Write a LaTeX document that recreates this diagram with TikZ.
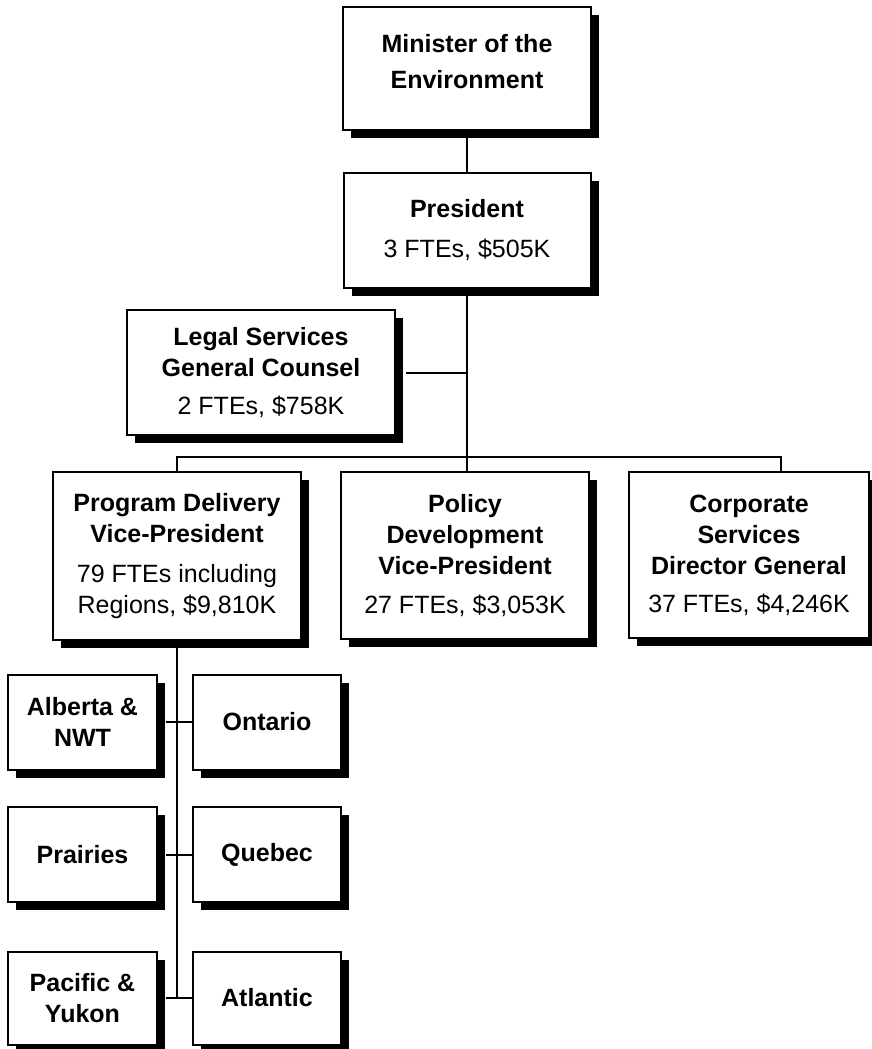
\documentclass[tikz,border=0pt]{standalone}
\usepackage{fontspec}
\setmainfont{Liberation Sans}
\usetikzlibrary{shadows}
\begin{document}
\begin{tikzpicture}[x=1pt,y=-1pt,
  box/.style={draw=black, line width=2pt, fill=white, inner sep=0pt, align=center,
    font=\fontsize{25}{31}\selectfont,
    drop shadow={shadow xshift=8pt, shadow yshift=-8pt, opacity=1, fill=black}},
  conn/.style={line width=2pt}]
\useasboundingbox (0,0) rectangle (872,1049);

\node[box, minimum width=248pt, minimum height=123pt] (minister) at (467,68.5)
  {\textbf{Minister of the}\\[5pt]\textbf{Environment}\\[-17pt]\mbox{}};
\node[box, minimum width=247pt, minimum height=115pt] (president) at (467,230.5)
  {\textbf{President}\\[9pt]3 FTEs, \$505K};
\node[box, minimum width=268pt, minimum height=125pt] (legal) at (261,372.5)
  {\textbf{Legal Services}\\\textbf{General Counsel}\\[7pt]2 FTEs, \$758K};
\node[box, minimum width=248pt, minimum height=168pt] (program) at (177,556)
  {\textbf{Program Delivery}\\\textbf{Vice-President}\\[9pt]79 FTEs including\\Regions, \$9,810K};
\node[box, minimum width=248pt, minimum height=167pt] (policy) at (465,555.5)
  {\textbf{Policy}\\\textbf{Development}\\\textbf{Vice-President}\\[8pt]27 FTEs, \$3,053K};
\node[box, minimum width=240pt, minimum height=166pt] (corp) at (749,555)
  {\textbf{Corporate}\\\textbf{Services}\\\textbf{Director General}\\[7pt]37 FTEs, \$4,246K};

\node[box, minimum width=149pt, minimum height=95pt] (alberta) at (82.5,722)
  {\textbf{Alberta \&}\\\textbf{NWT}};
\node[box, minimum width=148pt, minimum height=95pt] (ontario) at (267,722)
  {\textbf{Ontario}};
\node[box, minimum width=149pt, minimum height=95pt] (prairies) at (82.5,854.5)
  {\textbf{Prairies}};
\node[box, minimum width=148pt, minimum height=95pt] (quebec) at (267,854.5)
  {\textbf{Quebec}};
\node[box, minimum width=149pt, minimum height=93pt] (pacific) at (82.5,998)
  {\textbf{Pacific \&}\\\textbf{Yukon}};
\node[box, minimum width=148pt, minimum height=93pt] (atlantic) at (267,998)
  {\textbf{Atlantic}};

\coordinate (busL) at (177,457);
\coordinate (busR) at (781,457);

\draw[conn] (minister.south) -- (president.north);
\draw[conn] (president.south) -- (president.south |- policy.north);
\draw[conn] (legal.east) ++(10,0) coordinate (legalout);
\draw[conn] (legalout) -- (legalout -| president.south);
\draw[conn] (program.north) -- (busL) -- (busR) -- (busR |- corp.north);
\draw[conn] (program.south) -- (program.south |- pacific.east);
\draw[conn] (alberta.east) ++(8,0) -- (ontario.west);
\draw[conn] (prairies.east) ++(8,0) -- (quebec.west);
\draw[conn] (pacific.east) ++(8,0) -- (atlantic.west);
\end{tikzpicture}
\end{document}
